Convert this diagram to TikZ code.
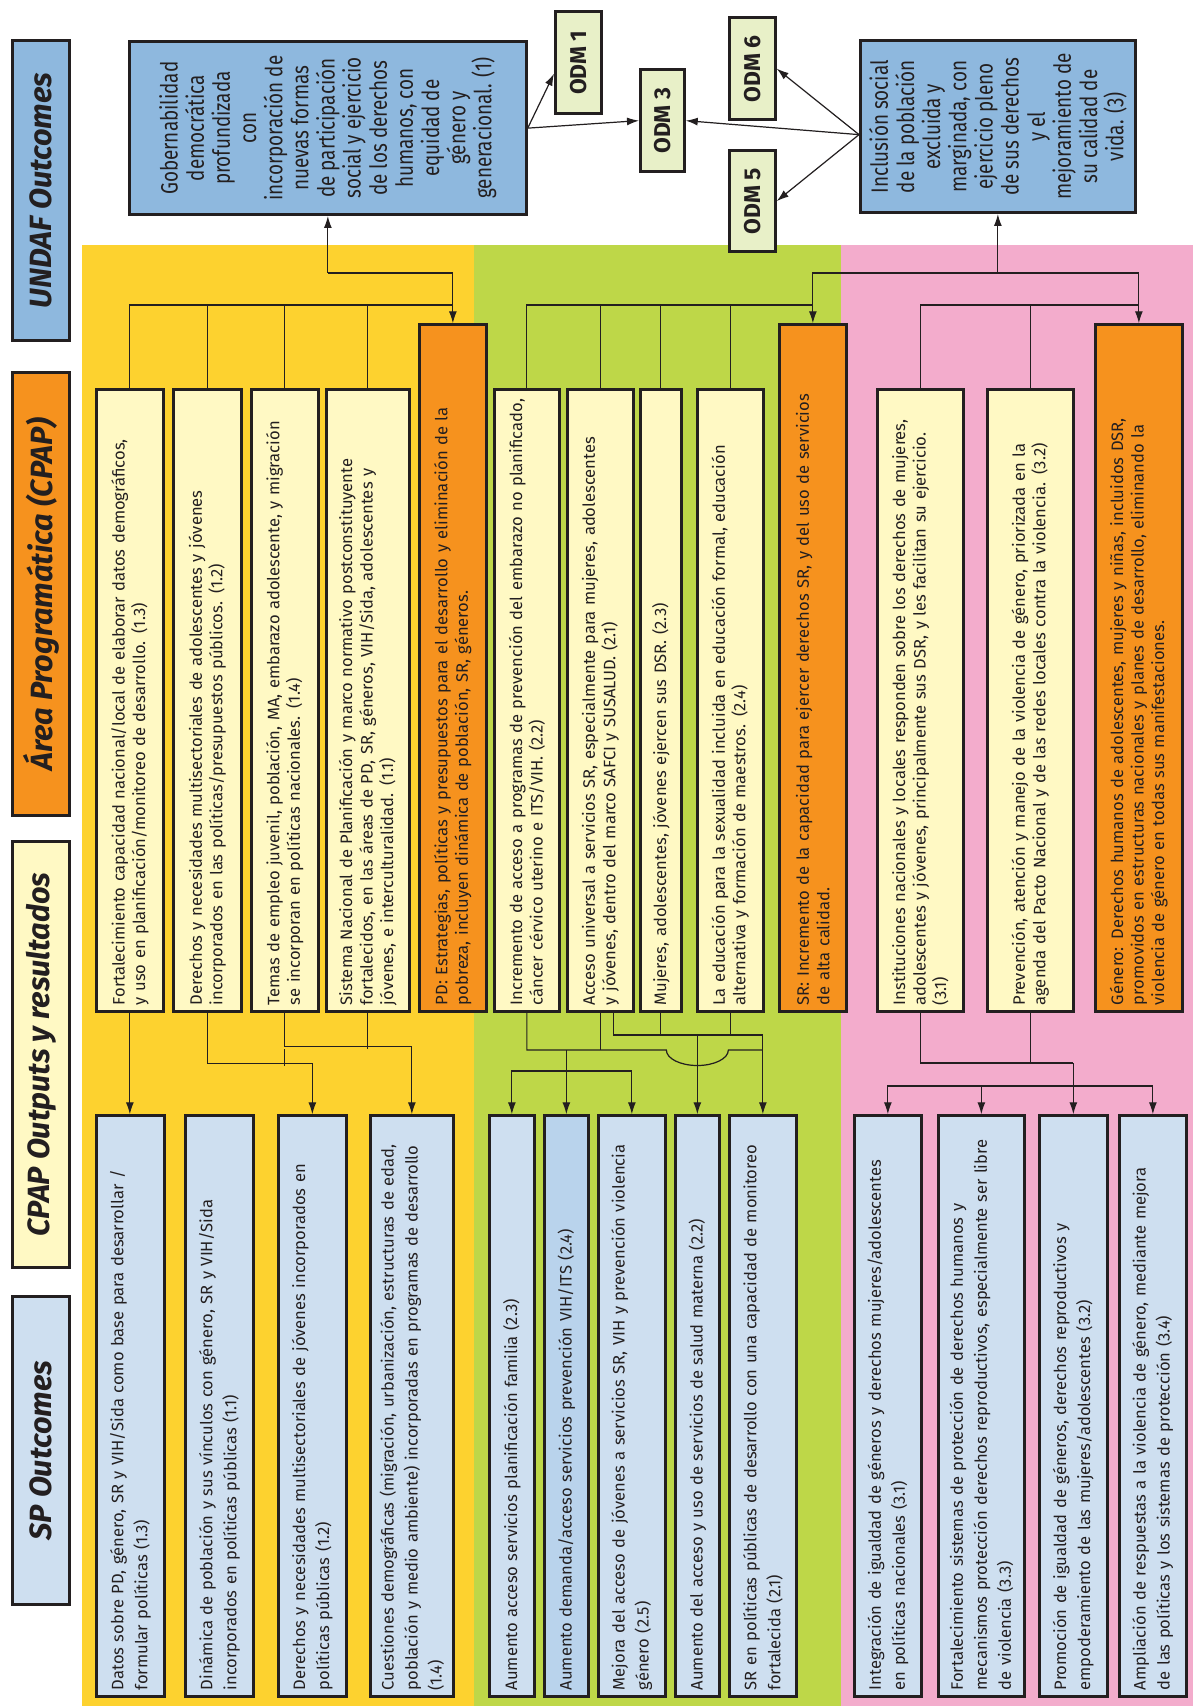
\documentclass[tikz,border=0pt]{standalone}
\usepackage{fontspec}
\setmainfont{Fira Sans}
\newfontfamily\condfont[FakeStretch=0.8]{Fira Sans}
\usetikzlibrary{calc, arrows.meta}

\definecolor{ybg}{HTML}{FDD22F}
\definecolor{gbg}{HTML}{BED748}
\definecolor{pbg}{HTML}{F3ACCC}
\definecolor{cpapfill}{HTML}{FFF9C4}
\definecolor{orfill}{HTML}{F6921E}
\definecolor{undaffill}{HTML}{8EB8DE}
\definecolor{spfill}{HTML}{CEDFF0}
\definecolor{spdark}{HTML}{B9D3EC}
\definecolor{odmfill}{HTML}{E8F0C8}
\definecolor{ink}{HTML}{231F20}

\tikzset{
  box/.style={draw=ink, line width=1.9pt, rotate=90, anchor=north west, inner xsep=4.5pt, inner ysep=0pt, align=left, text=ink},
  cpap/.style={box, fill=cpapfill, minimum width=435.4pt, text width=426.4pt, font=\fontsize{11.6}{14.35}\selectfont},
  prog/.style={cpap, fill=orfill, minimum width=480.9pt, text width=471.9pt},
  sp/.style={box, fill=spfill, minimum width=406.7pt, text width=397.7pt, font=\fontsize{11.6}{16.8}\selectfont},
  head/.style={box, align=center, minimum height=39.9pt, font=\bfseries\itshape\fontsize{21.5}{24}\selectfont},
  undaf/.style={box, fill=undaffill, align=center, font=\condfont\fontsize{16.5}{18.3}\selectfont},
  odm/.style={box, fill=odmfill, align=center, font=\bfseries\fontsize{16}{18}\selectfont},
  link/.style={draw=ink, line width=0.85pt},
  >={Latex[length=8.4pt,width=5.6pt]}
}

\begin{document}
\begin{tikzpicture}[x=0.7pt, y=-0.7pt]
\useasboundingbox (0,0) rectangle (1193,1706);

% bands
\fill[ybg] (82,245) rectangle (474,1706);
\fill[gbg] (474,245) rectangle (841,1706);
\fill[pbg] (841,245) rectangle (1193,1706);

% row titles
\node[head, fill=undaffill, minimum width=210pt] (hundaf) at (11,342) {UNDAF Outcomes};
\node[head, fill=orfill, minimum width=310.1pt] (hcpap) at (11,817) {Área Programática (CPAP)};
\node[head, fill=cpapfill, minimum width=298.2pt] (hout) at (11,1269) {CPAP Outputs y resultados};
\node[head, fill=spfill, minimum width=215.6pt] (hsp) at (11,1606) {SP Outcomes};

% UNDAF outcomes and ODM
\node[undaf, minimum width=121.1pt, minimum height=277.9pt] (uA) at (128,216) {Gobernabilidad\\democrática\\profundizada\\con\\incorporación de\\nuevas formas\\de participación\\social y ejercicio\\de los derechos\\humanos, con\\equidad de\\género y\\generacional. (1)};
\node[undaf, minimum width=120.4pt, minimum height=192.5pt] (uC) at (859,214) {Inclusión social\\de la población\\excluida y\\marginada, con\\ejercicio pleno\\de sus derechos\\y el\\mejoramiento de\\su calidad de\\vida. (3)};
\node[odm, minimum width=71.4pt, minimum height=32.2pt] (oA) at (554,115) {ODM 1};
\node[odm, minimum width=71.4pt, minimum height=30.8pt] (oC) at (639,173) {ODM 3};
\node[odm, minimum width=71.4pt, minimum height=32.2pt] (oF) at (728,121) {ODM 6};
\node[odm, minimum width=70.7pt, minimum height=32.2pt] (oE) at (728,253) {ODM 5};

% CPAP
\node[cpap, minimum height=46.9pt] (c13) at (95,1013) {Fortalecimiento capacidad nacional/local de elaborar datos demográficos,\\y uso en planificación/monitoreo de desarrollo. (1.3)};
\node[cpap, minimum height=47.6pt] (c12) at (172,1013) {Derechos y necesidades multisectoriales de adolescentes y jóvenes\\incorporados en las políticas/presupuestos públicos. (1.2)};
\node[cpap, minimum height=46.9pt] (c14) at (250,1013) {Temas de empleo juvenil, población, MA, embarazo adolescente, y migración\\se incorporan en políticas nacionales. (1.4)};
\node[cpap, minimum height=58.1pt] (c11) at (325,1013) {Sistema Nacional de Planificación y marco normativo postconstituyente\\fortalecidos, en las áreas de PD, SR, géneros, VIH/Sida, adolescentes y\\jóvenes, e interculturalidad. (1.1)};
\node[prog, minimum height=46.9pt] (pd) at (418,1013) {PD: Estrategias, políticas y presupuestos para el desarrollo y eliminación de la\\pobreza, incluyen dinámica de población, SR, géneros.};
\node[cpap, minimum height=45.5pt] (c22) at (493,1013) {Incremento de acceso a programas de prevención del embarazo no planificado,\\cáncer cérvico uterino e ITS/VIH. (2.2)};
\node[cpap, minimum height=46.2pt] (c21) at (566,1013) {Acceso universal a servicios SR, especialmente para mujeres, adolescentes\\y jóvenes, dentro del marco SAFCI y SUSALUD. (2.1)};
\node[cpap, minimum height=28.7pt] (c23) at (639,1013) {Mujeres, adolescentes, jóvenes ejercen sus DSR. (2.3)};
\node[cpap, minimum height=46.2pt] (c24) at (696,1013) {La educación para la sexualidad incluida en educación formal, educación\\alternativa y formación de maestros. (2.4)};
\node[prog, minimum height=46.9pt] (sr) at (778,1013) {SR: Incremento de la capacidad para ejercer derechos SR, y del uso de servicios\\de alta calidad.};
\node[cpap, minimum height=60.2pt] (c31) at (876,1013) {Instituciones nacionales y locales responden sobre los derechos de mujeres,\\adolescentes y jóvenes, principalmente sus DSR, y les facilitan su ejercicio.\\(3.1)};
\node[cpap, minimum height=60.2pt] (c32) at (986,1013) {Prevención, atención y manejo de la violencia de género, priorizada en la\\agenda del Pacto Nacional y de las redes locales contra la violencia. (3.2)};
\node[prog, minimum height=60.9pt] (gen) at (1094,1013) {Género: Derechos humanos de adolescentes, mujeres y niñas, incluidos DSR,\\promovidos en estructuras nacionales y planes de desarrollo, eliminando la\\violencia de género en todas sus manifestaciones.};

% SP outcomes
\node[sp, minimum height=47.6pt] (s13) at (95,1698) {Datos sobre PD, género, SR y VIH/Sida como base para desarrollar /\\formular políticas (1.3)};
\node[sp, minimum height=47.6pt] (s11) at (184,1698) {Dinámica de población y sus vínculos con género, SR y VIH/Sida\\incorporados en políticas públicas (1.1)};
\node[sp, minimum height=47.6pt] (s12) at (277,1698) {Derechos y necesidades multisectoriales de jóvenes incorporados en\\políticas públicas (1.2)};
\node[sp, minimum height=58.1pt] (s14) at (369,1698) {Cuestiones demográficas (migración, urbanización, estructuras de edad,\\población y medio ambiente) incorporadas en programas de desarrollo\\(1.4)};
\node[sp, minimum height=31.5pt] (s23) at (488,1698) {Aumento acceso servicios planificación familia (2.3)};
\node[sp, fill=spdark, minimum height=30.8pt] (s24) at (543,1698) {Aumento demanda/acceso servicios prevención VIH/ITS (2.4)};
\node[sp, minimum height=46.9pt] (s25) at (597,1698) {Mejora del acceso de jóvenes a servicios SR, VIH y prevención violencia\\género (2.5)};
\node[sp, minimum height=30.8pt] (s22) at (674,1698) {Aumento del acceso y uso de servicios de salud materna (2.2)};
\node[sp, minimum height=46.9pt] (s21) at (728,1698) {SR en políticas públicas de desarrollo con una capacidad de monitoreo\\fortalecida (2.1)};
\node[sp, minimum height=46.9pt] (s31) at (853,1698) {Integración de igualdad de géneros y derechos mujeres/adolescentes\\en políticas nacionales (3.1)};
\node[sp, minimum height=60.2pt] (s33) at (937,1698) {Fortalecimiento sistemas de protección de derechos humanos y\\mecanismos protección derechos reproductivos, especialmente ser libre\\de violencia (3.3)};
\node[sp, minimum height=47.6pt] (s32) at (1038,1698) {Promoción de igualdad de géneros, derechos reproductivos y\\empoderamiento de las mujeres/adolescentes (3.2)};
\node[sp, minimum height=46.9pt] (s34) at (1118,1698) {Ampliación de respuestas a la violencia de género, mediante mejora\\de las políticas y los sistemas de protección (3.4)};

% UNDAF -> ODM
\draw[link,->] (uA.south) -- ($(oA.north)+(0,11)$);
\draw[link,->] (uA.south) -- (oC.north);
\coordinate (uCl) at ($(uC.north)+(0,8)$);
\draw[link,->] (uCl) -- (oF.south);
\draw[link,->] (uCl) -- (oC.south);
\draw[link,->] (uCl) -- (oE.south);

% CPAP -> UNDAF
\coordinate (ybus) at (pd.east |- 0,305);
\draw[link] (c13.east) |- (ybus);
\foreach \n in {c12,c14,c11} \draw[link] (\n.east) -- (\n.east |- ybus);
\coordinate (yup) at (uA.west |- 0,273);
\draw[link,->] (yup) -- (uA.west);
\draw[link,->] (yup) -| (pd.east);

\coordinate (gbus) at (sr.east |- 0,305);
\draw[link] (c22.east) |- (gbus);
\foreach \n in {c21,c23,c24} \draw[link] (\n.east) -- (\n.east |- gbus);
\coordinate (pbus) at (gen.east |- 0,305);
\draw[link] (c31.east) |- (pbus);
\draw[link] (c32.east) -- (c32.east |- pbus);
\coordinate (gup) at (uC.west |- 0,273);
\draw[link,->] (gup) -- (uC.west);
\draw[link,->] (gup) -| (sr.east);
\draw[link,->] (gup) -| (gen.east);

% CPAP -> SP, yellow
\draw[link,->] (c13.west) -- (c13.west |- s13.east);
\draw[link,->] (c12.west) |- ($(s12.east)+(0,-51)$) -- (s12.east);
\draw[link,->] (c14.west) |- ($(s14.east)+(0,-68)$) -- (s14.east);
\draw[link] (c11.west) -- (c11.west |- 0,1049);
\draw[link] (c14.west |- 0,1049) -- (c14.west |- 0,1066);

% CPAP -> SP, green
\coordinate (gu) at (s21.east |- 0,1035);
\coordinate (gl) at (s21.east |- 0,1050);
\draw[link] ($(c21.west)+(13,0)$) |- (gu);
\draw[link] (c23.west) -- (c23.west |- gu);
\draw[link] (c24.west) -- (c24.west |- gu);
\draw[link,->] (gu) -- (s21.east);
\draw[link,->] (s22.east |- gu) -- (s22.east);
\draw[link] (c22.west) |- ($(s22.east |- gl)+(-31,0)$) arc[start angle=180, end angle=360, x radius=21.7pt, y radius=10.85pt] -- (gl);
\draw[link] (c21.west) -- (c21.west |- gl);
\draw[link,->] (s24.east |- gl) -- (s24.east);
\draw[link,->] (s24.east |- 0,1071) -| (s23.east);
\draw[link,->] (s24.east |- 0,1071) -| (s25.east);

% CPAP -> SP, pink
\coordinate (pu) at (s32.east |- 0,1063);
\draw[link] (c31.west) |- (pu);
\draw[link] (c32.west) -- (c32.west |- pu);
\draw[link,->] (pu) -- (s32.east);
\draw[link,->] (s32.east |- 0,1086) -| (s31.east);
\draw[link,->] (s32.east |- 0,1086) -| (s34.east);
\draw[link,->] (s33.east |- 0,1086) -- (s33.east);
\end{tikzpicture}
\end{document}
